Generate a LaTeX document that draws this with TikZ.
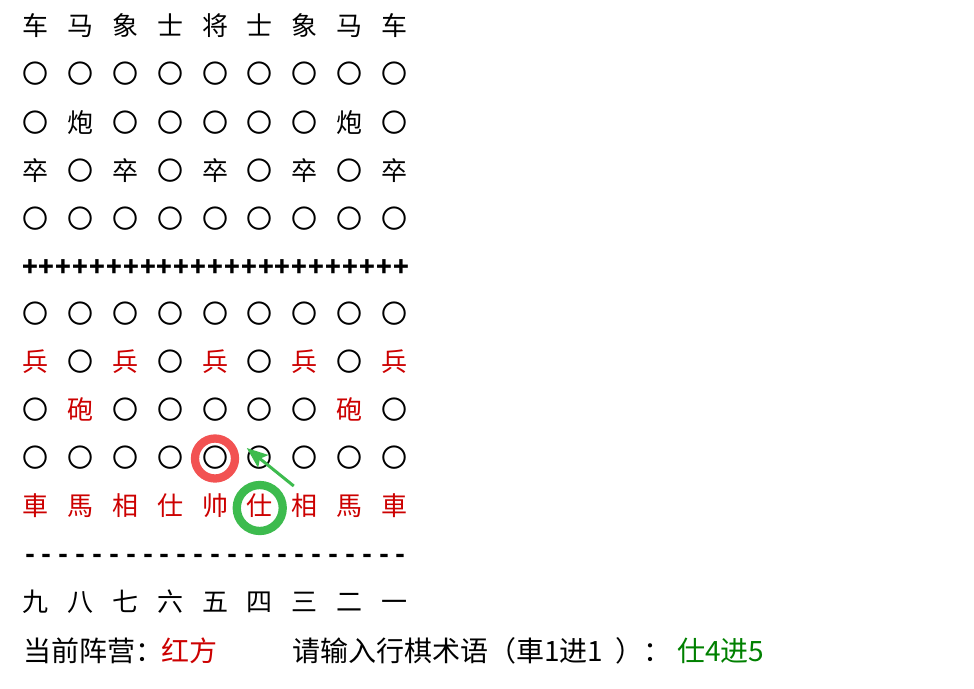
\documentclass[tikz,border=0pt]{standalone}
\usepackage{fontspec}
\setmainfont{Noto Sans CJK SC}
\usetikzlibrary{calc,arrows.meta,positioning}

\definecolor{qired}{RGB}{204,0,0}
\definecolor{qigreen}{RGB}{0,128,0}
\definecolor{ringred}{RGB}{242,82,82}
\definecolor{ringgreen}{RGB}{61,187,78}

\newcommand\kong{{\color{black}〇}}
\newcommand\boardrow[4]{%
  \foreach \p [count=\c] in {#4}
    \node[cell,text=#3] (p#1-\c) at ({36+44.75*(\c-1)},#2) {\p};}

\tikzset{
  cell/.style={inner sep=0pt,text height=23pt,text depth=3pt,font=\fontsize{26}{30}\selectfont},
  mark line/.style={cell,font=\fontsize{26}{30}\selectfont\bfseries},
  status/.style={inner sep=0pt,anchor=west,text height=25pt,text depth=3pt,font=\fontsize{28}{32}\selectfont},
  ring/.style={circle,draw,line width=8.3pt,inner sep=0pt}
}

\begin{document}
\begin{tikzpicture}[x=1pt,y=-1pt]
			\useasboundingbox (0,0) rectangle (974,688);
			\begin{scope}
				\boardrow{1}{25}{black}{车,马,象,士,将,士,象,马,车}
				\boardrow{2}{73}{black}{〇,〇,〇,〇,〇,〇,〇,〇,〇}
				\boardrow{3}{122}{black}{〇,炮,〇,〇,〇,〇,〇,炮,〇}
				\boardrow{4}{170}{black}{卒,〇,卒,〇,卒,〇,卒,〇,卒}
				\boardrow{5}{218}{black}{〇,〇,〇,〇,〇,〇,〇,〇,〇}
				\foreach \k in {0,...,22}
					\node[mark line] (plus\k) at ({30+16.86*\k},266) {+};
				\boardrow{7}{313}{black}{〇,〇,〇,〇,〇,〇,〇,〇,〇}
				\boardrow{8}{361}{qired}{兵,\kong,兵,\kong,兵,\kong,兵,\kong,兵}
				\boardrow{9}{409}{qired}{\kong,砲,\kong,\kong,\kong,\kong,\kong,砲,\kong}
				\boardrow{10}{457}{black}{〇,〇,〇,〇,〇,〇,〇,〇,〇}
				\boardrow{11}{505}{qired}{車,馬,相,仕,帅,仕,相,馬,車}
				\foreach \k in {0,...,22}
					\node[mark line] (dash\k) at ({30+16.86*\k},553) {-};
				\boardrow{13}{601}{black}{九,八,七,六,五,四,三,二,一}
			\end{scope}
			\node[ring,draw=ringred,minimum size=40pt] (target) at ($(p10-5)+(0,1.5)$) {};
			\node[ring,draw=ringgreen,minimum size=46pt] (pick) at ($(p11-6)+(0,3)$) {};
			\coordinate (tail) at ($(pick)+(34,-22)$);
			\draw[ringgreen,line width=3pt,-{Stealth[length=21pt,width=16pt,inset=4pt]}] (tail) -- ($(p10-6)+(-13,-9)$);
			\node[status] (camp) at (23,650) {当前阵营：};
			\node[status,text=qired] (side) at (161,650) {红方};
			\node[status] (prompt) at (292,650) {请输入行棋术语（車1进1\ \ ）：};
			\node[status,text=qigreen] (move) at (677,650) {仕4进5};
		\end{tikzpicture}
\end{document}
